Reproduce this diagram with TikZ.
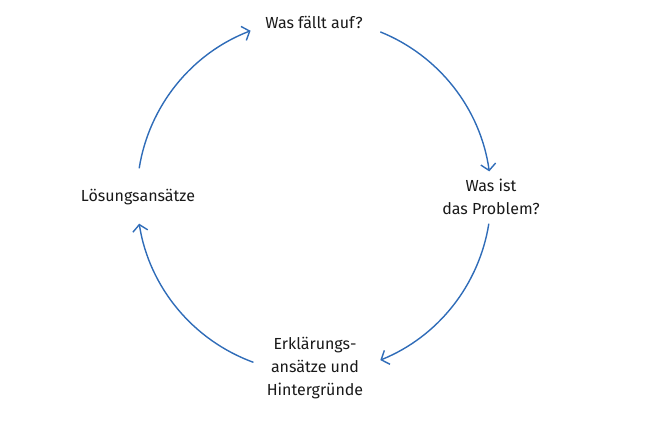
\documentclass[tikz,border=0pt]{standalone}
\usepackage{fontspec}
\setmainfont{Fira Sans}
\usetikzlibrary{arrows.meta}
\definecolor{zyklusblau}{HTML}{2F6CB8}
\tikzset{
	schritt/.style = {align=center, text=black!90, font=\fontsize{16}{23}\selectfont, inner sep=0pt},
	pfeil/.style = {zyklusblau, line width=1.4pt, -{Straight Barb[length=6.5pt, width=15pt, line width=1.4pt]}}
}
\begin{document}
\begin{tikzpicture}[x=1pt, y=1pt]
\useasboundingbox (-314,-238) rectangle (336,196);

\node[schritt] (auffallen) at (0,174) {Was fällt auf?};
\node[schritt] (problem) at (177,-1) {Was ist\\das Problem?};
\node[schritt] (erklaerung) at (1,-172) {Erklärungs-\\ansätze und\\Hintergründe};
\node[schritt] (loesung) at (-176,-1) {Lösungsansätze};

\foreach \a/\b/\name in {171/111/lo, 68/8/ob, -9/-68/re, -110/-171/un}
{
	\coordinate (\name) at (\a:177);
	\draw[pfeil] (\name) arc[start angle=\a, end angle=\b, radius=177];
}
\end{tikzpicture}
\end{document}
